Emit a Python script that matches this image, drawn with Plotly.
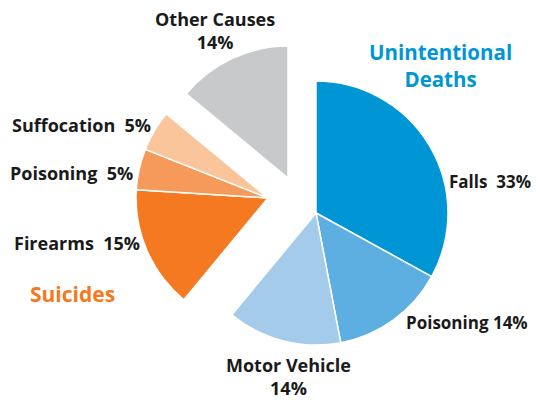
import plotly.graph_objects as go

# ---- data ----
causes = ["Falls", "Poisoning", "Motor Vehicle", "Firearms", "Poisoning", "Suffocation", "Other Causes"]
percents = [33, 14, 14, 15, 5, 5, 14]
groups = ["Unintentional", "Unintentional", "Unintentional", "Suicides", "Suicides", "Suicides", "Other"]
colors = ["#0096d6", "#5eafe1", "#a5cbeb", "#f47920", "#f69a5c", "#fac59b", "#c8c9cb"]

OFF = 8            # page body margin
W, H = 540 - OFF, 400 - OFF
R = 132
# group centres (window pixel positions of each exploded group's pie centre)
centres = {"Unintentional": (316, 213), "Suicides": (268, 198), "Other": (288, 178)}

def px(x, y):
    return (x - OFF) / W, 1 - (y - OFF) / H

fig = go.Figure()
for g, (cx, cy) in centres.items():
    cols = [c if gg == g else "rgba(0,0,0,0)" for c, gg in zip(colors, groups)]
    lw = [1.5 if gg == g else 0 for gg in groups]
    x0, y1 = px(cx - R, cy - R)
    x1, y0 = px(cx + R, cy + R)
    fig.add_trace(go.Pie(
        labels=[f"{c} ({gg})" for c, gg in zip(causes, groups)],
        values=percents,
        sort=False, direction="clockwise", rotation=0,
        marker=dict(colors=cols, line=dict(color="white", width=lw)),
        textinfo="none", hoverinfo="skip", showlegend=False,
        domain=dict(x=[x0, x1], y=[y0, y1]),
    ))

FONT = "Open Sans"
def lab(text, x, y, xanchor="center", color="#1a1a1a", size=18):
    xx, yy = px(x, y)
    fig.add_annotation(text=text, x=xx, y=yy, xref="paper", yref="paper",
                       xanchor=xanchor, yanchor="middle", showarrow=False,
                       font=dict(family=FONT, size=size, color=color), align="center")

SP = "&nbsp;&nbsp;"
lab(f"<b>{causes[6]}<br>{percents[6]}%</b>", 215, 30)
lab("<b>Unintentional<br>Deaths</b>", 440, 65, color="#0096d6", size=20.5)
lab(f"<b>{causes[0]}&nbsp; {percents[0]}%</b>", 447, 181, xanchor="left", size=17)
lab(f"<b>{causes[1]} {percents[1]}%</b>", 404, 322, xanchor="left", size=17)
lab(f"<b>{causes[2]}<br>{percents[2]}%</b>", 288, 376)
lab(f"<b>{causes[3]}{SP}{percents[3]}%</b>", 12, 243, xanchor="left")
lab("<b>Suicides</b>", 28, 294, xanchor="left", color="#f47920", size=21)
lab(f"<b>{causes[4]}{SP}{percents[4]}%</b>", 8, 173, xanchor="left")
lab(f"<b>{causes[5]}{SP}{percents[5]}%</b>", 10, 125, xanchor="left")

fig.update_layout(width=W, height=H, margin=dict(l=0, r=0, t=0, b=0),
                  paper_bgcolor="white", plot_bgcolor="white")
fig.write_html("out.html")
